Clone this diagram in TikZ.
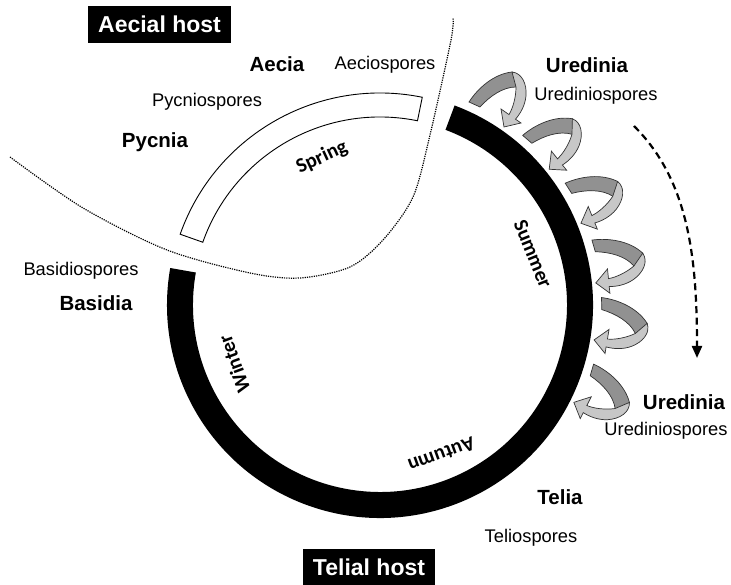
\documentclass[tikz,border=0pt]{standalone}
\usepackage{fontspec}
\setmainfont{Liberation Sans}
\newfontfamily\seasonfont{Carlito}
\usetikzlibrary{calc,arrows.meta}
\begin{document}
\begin{tikzpicture}[x=1pt,y=1pt,
  lbl/.style={font=\fontsize{18.3}{20}\selectfont, inner sep=0pt},
  blbl/.style={font=\fontsize{20.5}{23}\selectfont\bfseries, inner sep=0pt},
  host/.style={fill=black,text=white,font=\fontsize{23}{26}\selectfont\bfseries, minimum height=37pt, inner sep=0pt},
  season/.style={font=\seasonfont\fontsize{20.5}{23}\selectfont\bfseries, inner sep=0pt},
  darkband/.style={fill=black!43, draw=black!80, line width=0.7pt},
  lightband/.style={fill=black!22, draw=black!80, line width=0.7pt},
]
\useasboundingbox (0,0) rectangle (731,585);
\coordinate (C) at (380,280);
% black arc
\fill[black] ($(C)+(69.5:213)$) arc[start angle=69.5,end angle=-190,radius=213]
  -- ($(C)+(-190:187)$) arc[start angle=-190,end angle=69.5,radius=187] -- cycle;
% white spring arc
\draw[fill=white, line width=0.9pt] ($(C)+(78.5:212)$) arc[start angle=78.5,end angle=160.5,radius=212]
  -- ($(C)+(160.5:188)$) arc[start angle=160.5,end angle=78.5,radius=188] -- cycle;
% dotted host boundary
\draw[line width=1.2pt, dash pattern=on 1.2pt off 1.1pt] plot[smooth] coordinates
  {(10,428) (83,377) (167,335) (250,312) (300,307) (350,318) (383,345) (413,388) (430,450) (451,545) (453,567)};
% curled arrows
\foreach \a in {0,-16.4,-33,-49.3,-64.4,-81.8} {
  \begin{scope}[rotate around={\a:(C)}]
    \path[darkband] (469,483) .. controls (478,497) and (494,511) .. (512,513) -- (520,509) -- (516,498)
      .. controls (503,498) and (490,489) .. (480,478) -- cycle;
    \path[lightband] (512,513) .. controls (522,512) and (527,501) .. (526,489)
      .. controls (525,479) and (520,471) .. (515.5,465.8) -- (521,462) -- (504,458) -- (501,476) -- (509,470.4)
      .. controls (513,477) and (516,488) .. (516,498) -- cycle;
  \end{scope}
}
% dashed arrow
\draw[line width=2.2pt, dash pattern=on 7pt off 4.5pt, -{Triangle[length=12pt,width=10pt]}]
  (634,459) .. controls (688,405) and (697,330) .. (697,227);
% season labels
\node[season, rotate=25] (spring) at (322,427.5) {Spring};
\node[season, rotate=-68] (summer) at (533,331) {Summer};
\node[season, rotate=200] (autumn) at (441.5,130) {Autumn};
\node[season, rotate=110] (winter) at (234,221) {Winter};
% host labels
\node[host, minimum width=143pt] (aecialhost) at (159.5,560.5) {Aecial host};
\node[host, minimum width=132pt] (telialhost) at (369,17.5) {Telial host};
% stage labels
\node[blbl] (aecia) at (277,521) {Aecia};
\node[lbl] (aeciospores) at (385,520) {Aeciospores};
\node[lbl] (pycniospores) at (207,483) {Pycniospores};
\node[blbl] (pycnia) at (155,443) {Pycnia};
\node[lbl] (basidiospores) at (81,314) {Basidiospores};
\node[blbl] (basidia) at (96,282) {Basidia};
\node[blbl] (uredinia1) at (587,520) {Uredinia};
\node[lbl] (urediniospores1) at (596,489) {Urediniospores};
\node[blbl] (uredinia2) at (684,183) {Uredinia};
\node[lbl] (urediniospores2) at (666,154) {Urediniospores};
\node[blbl] (telia) at (560,88) {Telia};
\node[lbl] (teliospores) at (531,47) {Teliospores};
\end{tikzpicture}
\end{document}
